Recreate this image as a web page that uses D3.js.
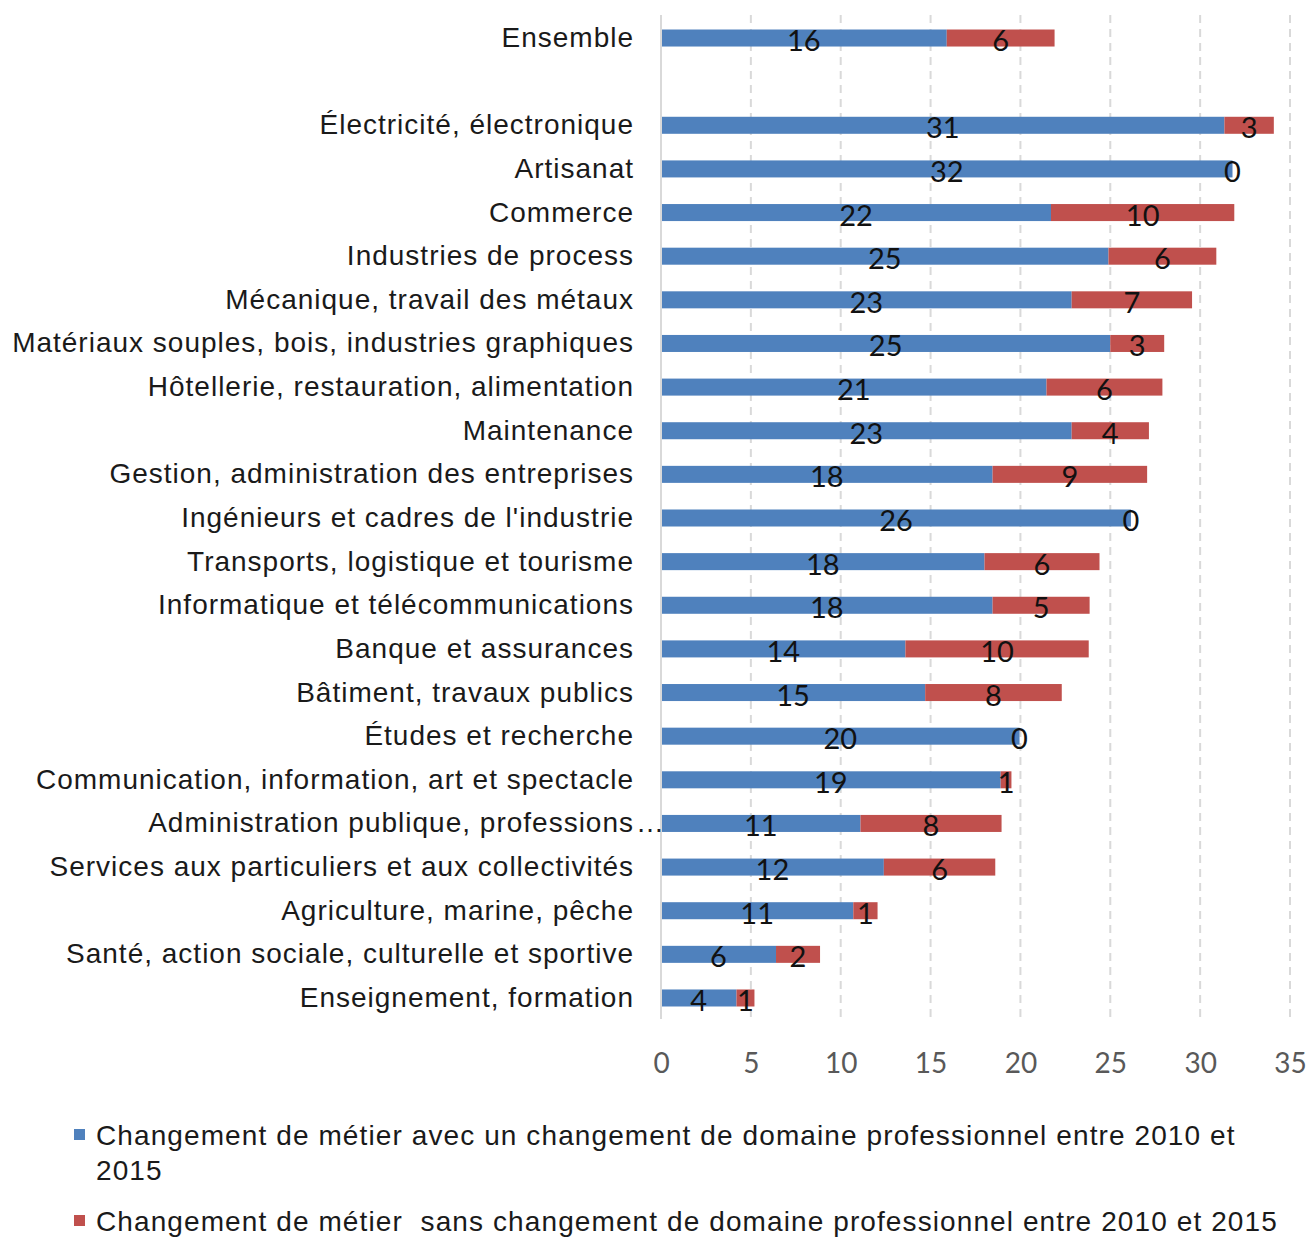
<!DOCTYPE html>
<html><head><meta charset="utf-8">
<script src="https://cdn.jsdelivr.net/npm/d3@7"></script>
<style>
body{margin:0;background:#fff;}
svg{display:block;}
</style></head>
<body>
<svg id="chart" width="1312" height="1239"></svg>
<script>
const categories = [
  "Ensemble", "",
  "Électricité, électronique", "Artisanat", "Commerce", "Industries de process",
  "Mécanique, travail des métaux", "Matériaux souples, bois, industries graphiques",
  "Hôtellerie, restauration, alimentation", "Maintenance",
  "Gestion, administration des entreprises", "Ingénieurs et cadres de l'industrie",
  "Transports, logistique et tourisme", "Informatique et télécommunications",
  "Banque et assurances", "Bâtiment, travaux publics", "Études et recherche",
  "Communication, information, art et spectacle", "Administration publique, professions…",
  "Services aux particuliers et aux collectivités", "Agriculture, marine, pêche",
  "Santé, action sociale, culturelle et sportive", "Enseignement, formation"
];
const avecChangement = [15.9, null, 31.35, 31.8, 21.7, 24.9, 22.85, 25.0, 21.45, 22.85, 18.45, 26.15, 18.0, 18.45, 13.6, 14.7, 19.95, 18.9, 11.1, 12.4, 10.7, 6.4, 4.2];
const sansChangement = [6.0, null, 2.75, 0, 10.2, 6.0, 6.7, 3.0, 6.45, 4.3, 8.6, 0, 6.4, 5.4, 10.2, 7.6, 0, 0.6, 7.85, 6.2, 1.35, 2.45, 1.0];
const xTicks = [0, 5, 10, 15, 20, 25, 30, 35];
const seriesNames = [
  "Changement de métier avec un changement de domaine professionnel entre 2010 et 2015",
  "Changement de métier  sans changement de domaine professionnel entre 2010 et 2015"
];
const colors = ["#4f81bd", "#c0504d"];

const svg = d3.select("#chart");
const x = d3.scaleLinear().domain([0, 35]).range([661, 1290]);
const y = d3.scaleBand().domain(categories.map((c, i) => i)).range([16.2, 1019.8])
  .paddingInner(0.61).paddingOuter(0.305);

// gridlines
const g = svg.append("g");
g.selectAll("line.grid").data(xTicks.filter(t => t > 0)).join("line")
  .attr("x1", d => x(d)).attr("x2", d => x(d))
  .attr("y1", 15).attr("y2", 1019)
  .attr("stroke", "#d9d9d9").attr("stroke-width", 2).attr("stroke-dasharray", "8,6");

// axis (tick labels)
const axis = d3.axisBottom(x).tickValues(xTicks).tickSize(0).tickPadding(0);
const ax = svg.append("g").attr("transform", "translate(0,1051)").call(axis);
ax.select(".domain").remove();
ax.selectAll("text").attr("fill", "#595959").attr("font-family", "Lato, 'Open Sans', sans-serif")
  .attr("font-size", 28).attr("dy", "0.78em");

const rows = categories.map((c, i) => ({c, i, a: avecChangement[i], s: sansChangement[i]}))
  .filter(d => d.a !== null);

// bars
const barG = svg.append("g");
barG.selectAll("rect.a").data(rows).join("rect")
  .attr("x", d => x(0)).attr("y", d => y(d.i))
  .attr("width", d => x(d.a) - x(0)).attr("height", y.bandwidth())
  .attr("fill", colors[0]);
barG.selectAll("rect.s").data(rows).join("rect")
  .attr("x", d => x(d.a)).attr("y", d => y(d.i))
  .attr("width", d => x(d.a + d.s) - x(d.a)).attr("height", y.bandwidth())
  .attr("fill", colors[1]);

// zero axis line
svg.append("line").attr("x1", x(0)).attr("x2", x(0)).attr("y1", 15).attr("y2", 1019)
  .attr("stroke", "#d9d9d9").attr("stroke-width", 2);

// value labels
const fmt = d3.format(".0f");
const lab = svg.append("g").attr("font-family", "Lato, 'Open Sans', sans-serif")
  .attr("font-size", 29).attr("fill", "#111").attr("text-anchor", "middle");
rows.forEach(d => {
  const cy = y(d.i) + y.bandwidth() / 2;
  lab.append("text").attr("x", x(d.a / 2)).attr("y", cy + 13).text(fmt(d.a));
  lab.append("text").attr("x", x(d.a + d.s / 2)).attr("y", cy + 13).text(fmt(d.s));
});

// category labels
const cat = svg.append("g").attr("font-family", "'Liberation Sans', Arial, sans-serif")
  .attr("font-size", 28).attr("fill", "#1a1a1a").attr("letter-spacing", 1.0);
categories.forEach((c, i) => {
  if (!c) return;
  const cy = y(i) + y.bandwidth() / 2;
  let main = c, tail = null;
  if (c.endsWith("…")) { main = c.slice(0, -1); tail = "…"; }
  cat.append("text").attr("x", 634).attr("y", cy + 9).attr("text-anchor", "end").text(main);
  if (tail) cat.append("text").attr("x", 636).attr("y", cy + 9).attr("text-anchor", "start").text(tail);
});

// legend
const leg = svg.append("g").attr("font-family", "'Liberation Sans', Arial, sans-serif")
  .attr("font-size", 28).attr("fill", "#1a1a1a").attr("letter-spacing", 1.1);
const maxW = 1195;
let baseY = 1145;
seriesNames.forEach((name, k) => {
  leg.append("rect").attr("x", 74).attr("y", baseY - 16).attr("width", 11).attr("height", 11).attr("fill", colors[k]);
  const words = name.split(" ");
  let line = "";
  const t = leg.append("text").attr("x", 96).attr("y", baseY).attr("xml:space", "preserve");
  let lines = [];
  words.forEach(w => {
    const test = line === "" ? w : line + " " + w;
    t.text(test);
    if (t.node().getComputedTextLength() > maxW && line !== "") { lines.push(line); line = w; }
    else line = test;
  });
  lines.push(line);
  t.text(null);
  lines.forEach((l, j) => {
    t.append("tspan").attr("x", 96).attr("y", baseY + j * 35).text(l);
  });
  baseY += lines.length * 35 + 16;
});
</script>
</body></html>
